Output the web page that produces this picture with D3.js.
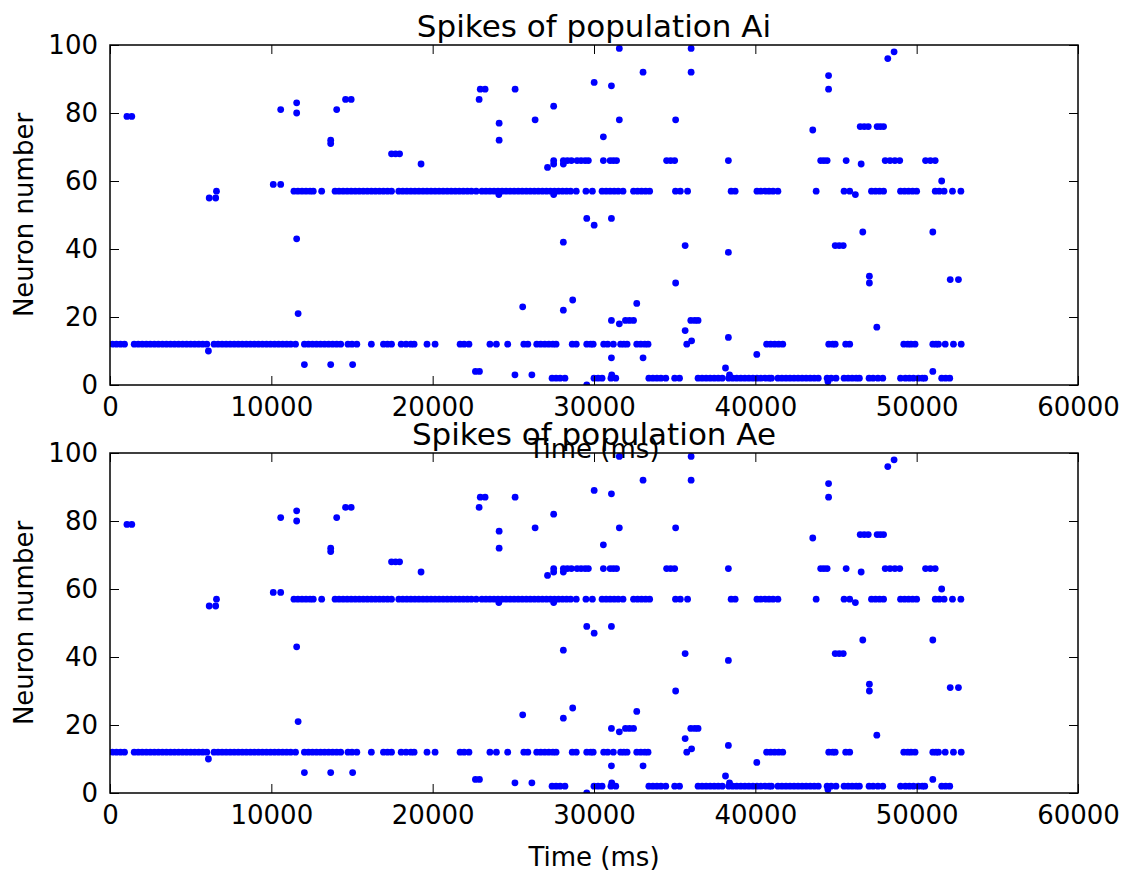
<!DOCTYPE html>
<html><head><meta charset="utf-8">
<script src="https://cdn.jsdelivr.net/npm/d3@7"></script>
<style>body{margin:0;background:#fff}svg text{font-family:"DejaVu Sans",sans-serif;fill:#000}</style>
</head><body>
<svg id="chart" width="1126" height="872"></svg>
<script>
// ---- data (both populations show the same raster) ----
const populations = ["Ai", "Ae"];
const xTicks = [0, 10000, 20000, 30000, 40000, 50000, 60000];
const yTicks = [0, 20, 40, 60, 80, 100];
const xLabel = "Time (ms)";
const yLabel = "Neuron number";

const neuronIds = [0, 1, 2, 3, 4, 5, 6, 8, 9, 10, 12, 13, 14, 16, 17, 18, 19, 21, 22, 23, 24, 25,
  30, 31, 32, 39, 41, 42, 43, 45, 47, 49, 55, 56, 57, 59, 60, 64, 65, 66, 68, 71, 72, 73, 75,
  76, 77, 78, 79, 80, 81, 82, 83, 84, 87, 88, 89, 91, 92, 96, 98, 99];

const spikeTimes = [
  [29550],                                   // 0
  [44500],                                   // 1
  [27400, 27650, 27900, 28200, 30000, 30250, 30500, 31050, 31350, 33400, 33650, 33900, 34150, 34450,
   35000, 35300, 36450, 36700, 36950, 37200, 37450, 37700, 37950, 38350, 38600, 38850, 39100, 39350,
   39600, 39850, 40100, 40350, 40600, 40850, 41000, 41400, 41650, 41900, 42150, 42400, 42650, 42900,
   43150, 43400, 43650, 43900, 44450, 44700, 45000, 45500, 45750, 46000, 46250, 46450, 47050, 47300,
   47600, 47900, 49000, 49300, 49550, 49800, 50100, 50350, 50500, 51550, 51800, 52050], // 2
  [25100, 26150, 31100, 38400],              // 3
  [22650, 22900, 51000],                     // 4
  [38150],                                   // 5
  [12050, 13680, 15040],                     // 6
  [31080, 33040],                            // 8
  [40090],                                   // 9
  [6100],                                    // 10
  [150, 400, 650, 900, 1500, 1750, 2000, 2250, 2500, 2750, 3000, 3250, 3500, 3750, 4000, 4250, 4500,
   4750, 5000, 5250, 5500, 5750, 6000, 6450, 6700, 6950, 7200, 7450, 7700, 7950, 8200, 8450, 8700,
   8950, 9200, 9450, 9700, 9950, 10200, 10450, 10700, 10950, 11200, 11500, 12050, 12300, 12550, 12800,
   13050, 13300, 13550, 13800, 14050, 14300, 14750, 15000, 15300, 16200, 16950, 17200, 17450, 18050,
   18350, 18650, 18850, 19650, 20150, 21700, 21950, 22250, 23550, 23950, 24650, 25650, 25900, 26450,
   26700, 26950, 27200, 27450, 27650, 28650, 28900, 29550, 29800, 29950, 30600, 30850, 31200, 31650,
   31850, 32050, 32650, 32900, 33150, 33350, 35750, 40700, 40950, 41200, 41450, 41700, 44550, 44800,
   44950, 45600, 45850, 49200, 49450, 49650, 49900, 51000, 51200, 51350, 51770, 52280, 52760], // 12
  [36050],                                   // 13
  [38330],                                   // 14
  [35650],                                   // 16
  [47530],                                   // 17
  [31570],                                   // 18
  [31080, 31950, 32200, 32450, 36000, 36250, 36450], // 19
  [11660],                                   // 21
  [28100],                                   // 22
  [25580],                                   // 23
  [32650],                                   // 24
  [28680],                                   // 25
  [35060, 47070],                            // 30
  [52080, 52590],                            // 31
  [47070],                                   // 32
  [38330],                                   // 39
  [35650, 44950, 45200, 45450],              // 41
  [28100],                                   // 42
  [11570],                                   // 43
  [46660, 51000],                            // 45
  [30010],                                   // 47
  [29550, 31080],                            // 49
  [6150, 6550],                              // 55
  [24100, 27500, 46200],                     // 56
  [6600, 11400, 11650, 11900, 12150, 12400, 12600, 13120, 13950, 14200, 14450, 14700, 14950, 15200,
   15450, 15700, 15950, 16200, 16450, 16700, 16950, 17200, 17450, 17900, 18150, 18400, 18650, 18900,
   19150, 19400, 19650, 19900, 20150, 20400, 20650, 20900, 21150, 21400, 21650, 21900, 22150, 22400,
   22700, 23050, 23300, 23550, 23800, 24050, 24300, 24550, 24800, 25050, 25300, 25550, 25800, 26050,
   26300, 26550, 26800, 27050, 27300, 27550, 27800, 28050, 28300, 28550, 28900, 29500, 29900, 30500,
   30750, 31000, 31250, 31500, 31800, 32450, 32700, 32950, 33200, 33450, 35050, 35350, 35800, 38500,
   38750, 40100, 40350, 40600, 40850, 41100, 41400, 43770, 45500, 45850, 47200, 47450, 47700, 47950,
   49000, 49250, 49500, 49750, 50000, 51150, 51400, 51700, 52220, 52740], // 57
  [10120, 10580],                            // 59
  [51550],                                   // 60
  [27120],                                   // 64
  [19280, 27500, 28100, 46560],              // 65
  [27500, 28100, 28350, 28600, 28950, 29200, 29450, 29650, 30580, 31000, 31200, 31400, 34500, 34750,
   35000, 38330, 44050, 44250, 44450, 45630, 48050, 48350, 48650, 48950, 50550, 50850, 51150], // 66
  [17450, 17700, 17950],                     // 68
  [13680],                                   // 71
  [13680, 24120],                            // 72
  [30580],                                   // 73
  [43560],                                   // 75
  [46500, 46750, 47000, 47550, 47750, 47950], // 76
  [24120],                                   // 77
  [26350, 31570, 35060],                     // 78
  [1050, 1350],                              // 79
  [11570],                                   // 80
  [10580, 14050],                            // 81
  [27500],                                   // 82
  [11570],                                   // 83
  [14600, 14950, 22880],                     // 84
  [22950, 23250, 25110, 44540],              // 87
  [31080],                                   // 88
  [30010],                                   // 89
  [44540],                                   // 91
  [33040, 36020],                            // 92
  [48210],                                   // 96
  [48600],                                   // 98
  [31570, 36020]                             // 99
];

// ---- drawing ----
const svg = d3.select("#chart");
svg.append("rect").attr("width", 1126).attr("height", 872).attr("fill", "#fff");

const plotLeft = 110, plotRight = 1078;
const panels = [{ top: 45, bottom: 385 }, { top: 453, bottom: 793 }];
const tickFont = 26, titleFont = 31;

const x = d3.scaleLinear().domain([0, 60000]).range([plotLeft, plotRight]);
const spikes = neuronIds.flatMap((n, i) => spikeTimes[i].map(t => ({ t, n })));

populations.forEach((pop, pi) => {
  const p = panels[pi];
  const y = d3.scaleLinear().domain([0, 100]).range([p.bottom, p.top]);
  const g = svg.append("g");

  const clipId = "clip" + pi;
  g.append("clipPath").attr("id", clipId).append("rect")
    .attr("x", plotLeft).attr("y", p.top)
    .attr("width", plotRight - plotLeft).attr("height", p.bottom - p.top);

  g.append("g").attr("clip-path", `url(#${clipId})`)
    .selectAll("circle").data(spikes).join("circle")
    .attr("cx", d => x(d.t)).attr("cy", d => y(d.n))
    .attr("r", 3.4).attr("fill", "#0000ff");

  const styleAxis = sel => {
    sel.select(".domain").remove();
    sel.selectAll(".tick line").attr("stroke", "#000").attr("stroke-width", 1);
    sel.selectAll(".tick text").attr("font-size", tickFont).attr("font-family", "DejaVu Sans").attr("fill", "#000");
  };

  g.append("g").attr("transform", `translate(0,${p.bottom})`)
    .call(d3.axisBottom(x).tickValues(xTicks).tickFormat(d3.format("d")).tickSizeInner(-9).tickSizeOuter(0).tickPadding(12.5))
    .call(styleAxis);
  g.append("g").attr("transform", `translate(0,${p.top})`)
    .call(d3.axisTop(x).tickValues(xTicks).tickFormat("").tickSizeInner(-9).tickSizeOuter(0))
    .call(styleAxis);
  g.append("g").attr("transform", `translate(${plotLeft},0)`)
    .call(d3.axisLeft(y).tickValues(yTicks).tickFormat(d3.format("d")).tickSizeInner(-9).tickSizeOuter(0).tickPadding(12))
    .call(styleAxis);
  g.append("g").attr("transform", `translate(${plotRight},0)`)
    .call(d3.axisRight(y).tickValues(yTicks).tickFormat("").tickSizeInner(-9).tickSizeOuter(0))
    .call(styleAxis);

  g.append("rect").attr("x", plotLeft).attr("y", p.top)
    .attr("width", plotRight - plotLeft).attr("height", p.bottom - p.top)
    .attr("fill", "none").attr("stroke", "#000").attr("stroke-width", 1.5);

  // x label
  g.append("text").attr("x", (plotLeft + plotRight) / 2).attr("y", p.bottom + 73)
    .attr("text-anchor", "middle").attr("font-size", tickFont).text(xLabel);
  // y label
  g.append("text")
    .attr("transform", `translate(33,${(p.top + p.bottom) / 2}) rotate(-90)`)
    .attr("text-anchor", "middle").attr("font-size", tickFont).text(yLabel);
});

// titles drawn last (second title overlaps the first x label, as in the original)
populations.forEach((pop, pi) => {
  const p = panels[pi];
  svg.append("text").attr("x", (plotLeft + plotRight) / 2).attr("y", p.top - 8.5)
    .attr("text-anchor", "middle").attr("font-size", titleFont)
    .text("Spikes of population " + pop);
});
</script>
</body></html>
